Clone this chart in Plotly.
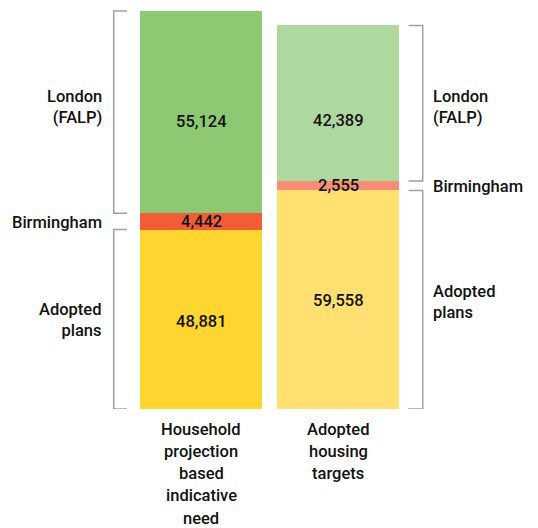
import plotly.graph_objects as go

# ---- data ----
categories = ["Household projection based indicative need", "Adopted housing targets"]
category_lines = [["Household", "projection", "based", "indicative", "need"],
                  ["Adopted", "housing", "targets"]]
segments = ["Adopted plans", "Birmingham", "London (FALP)"]
adopted_plans = [48881, 59558]
birmingham = [4442, 2555]
london = [55124, 42389]

seg_values = [adopted_plans, birmingham, london]
seg_colors = [["#FFD52F", "#FFE070"],
              ["#F25C38", "#F68D74"],
              ["#8DC873", "#AFD89E"]]

# ---- layout constants (pixels) ----
W, H = 538, 528
PLOT_BOTTOM = 409          # pixel row of the baseline
BAR1_TOP = 11
C0, STEP, BARW = 201, 137, 122
r0 = -C0 / STEP
r1 = (W - C0) / STEP
totals = [a + b + c for a, b, c in zip(adopted_plans, birmingham, london)]
ymax = totals[0] * PLOT_BOTTOM / (PLOT_BOTTOM - BAR1_TOP)


def px_x(px):
    return r0 + px / W * (r1 - r0)


def px_y(py):
    return (PLOT_BOTTOM - py) / PLOT_BOTTOM * ymax


def px_paper_y(py):
    return (PLOT_BOTTOM - py) / PLOT_BOTTOM


FONT = "Roboto, 'Noto Sans', sans-serif"
FS = 16.5
TXT = "#111111"
BRACKET = "#A0A0A0"

fig = go.Figure()
xs = [0, 1]
for name, vals, cols in zip(segments, seg_values, seg_colors):
    fig.add_trace(go.Bar(x=xs, y=vals, name=name, marker=dict(color=cols, line=dict(width=0)),
                         hoverinfo="skip", showlegend=False))

annotations = []
# value labels
value_shift = [[-2.5, -1], [0, 0], [-9, -17.5]]
for si, vals in enumerate(seg_values):
    for bi, v in enumerate(vals):
        base = sum(seg_values[k][bi] for k in range(si))
        annotations.append(dict(x=xs[bi], y=base + v / 2, xref="x", yref="y", text=f"{v:,}",
                                showarrow=False, yshift=value_shift[si][bi],
                                font=dict(family=FONT, size=FS, color=TXT, weight=500)))

# category labels (one annotation per line)
line_y0, line_gap = 429, 22.3
for bi, lines in enumerate(category_lines):
    for li, t in enumerate(lines):
        annotations.append(dict(x=xs[bi], y=px_paper_y(line_y0 + li * line_gap), xref="x", yref="paper",
                                text=t, showarrow=False, yanchor="middle",
                                font=dict(family=FONT, size=FS, color=TXT, weight=500)))

# side labels
side_text = ["Adopted<br>plans", "Birmingham", "London<br>(FALP)"]
left_label_y = [320, 222, 107]
right_label_y = [302, 186, 107]
for si in range(3):
    annotations.append(dict(x=px_x(104), y=px_y(left_label_y[si]), xref="x", yref="y",
                            text=side_text[si], showarrow=False, xanchor="right", align="right",
                            font=dict(family=FONT, size=FS, color=TXT, weight=500)))
    annotations.append(dict(x=px_x(431), y=px_y(right_label_y[si]), xref="x", yref="y",
                            text=side_text[si], showarrow=False, xanchor="left", align="left",
                            font=dict(family=FONT, size=FS, color=TXT, weight=500)))

# brackets
shapes = []
cum = [[0, 0], [0, 0], [0, 0], [0, 0]]
for bi in range(2):
    acc = 0
    for si in range(3):
        cum[si][bi] = acc
        acc += seg_values[si][bi]
    cum[3][bi] = acc


def bracket(xv, xt, ya, yb):
    return dict(type="path", xref="x", yref="y",
                path=f"M {xt},{ya} L {xv},{ya} L {xv},{yb} L {xt},{yb}",
                line=dict(color=BRACKET, width=1.5))


lv, lt = px_x(113.7), px_x(127)
rv, rt = px_x(422.7), px_x(408.5)
shapes.append(bracket(lv, lt, cum[0][0], cum[1][0]))
shapes.append(bracket(lv, lt, cum[2][0], cum[3][0]))
shapes.append(bracket(rv, rt, cum[0][1], cum[1][1]))
shapes.append(bracket(rv, rt, cum[2][1], cum[3][1]))

fig.update_layout(
    width=W, height=H,
    margin=dict(l=0, r=0, t=0, b=H - PLOT_BOTTOM, pad=0),
    barmode="stack", bargap=1 - BARW / STEP,
    paper_bgcolor="white", plot_bgcolor="white",
    xaxis=dict(range=[r0, r1], visible=False, fixedrange=True),
    yaxis=dict(range=[0, ymax], visible=False, fixedrange=True),
    annotations=annotations, shapes=shapes,
    font=dict(family=FONT),
)

fig.write_html("out.html", config={"displayModeBar": False},
               post_script="document.body.style.margin='0';document.body.style.overflow='hidden';")
